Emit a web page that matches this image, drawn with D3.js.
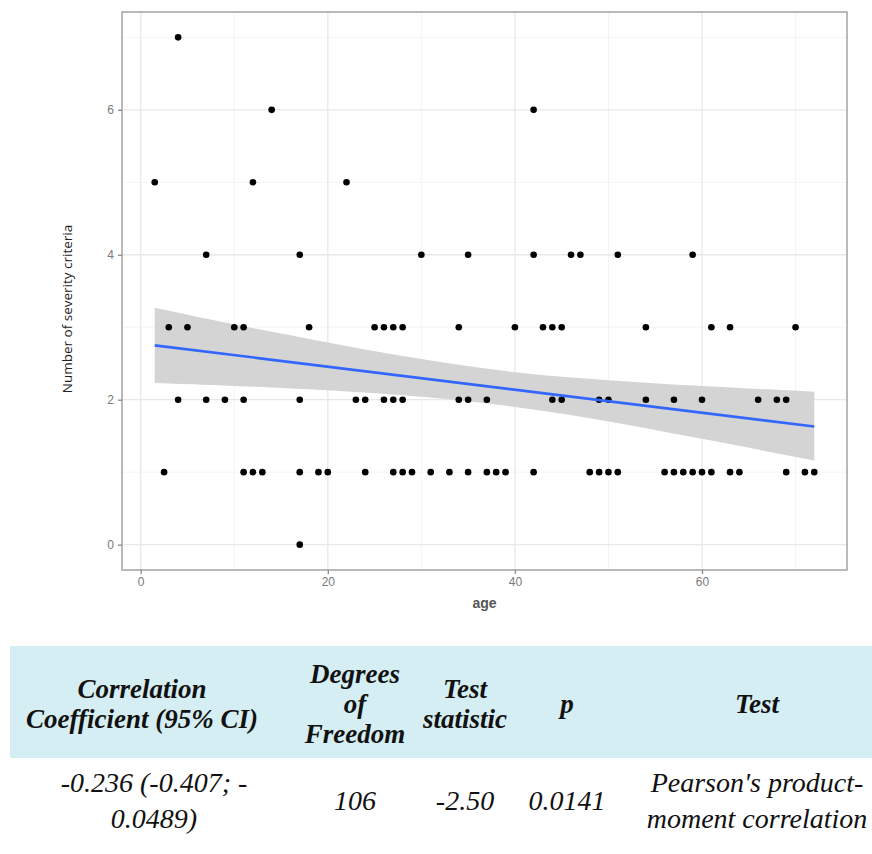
<!DOCTYPE html>
<html>
<head>
<meta charset="utf-8">
<script src="https://cdn.jsdelivr.net/npm/d3@7"></script>
<style>
  body { margin: 0; background: #fff; }
  svg { display: block; }
</style>
</head>
<body>
<svg id="chart" width="872" height="854"></svg>
<script>
// points, one list of ages per number of criteria
var agesWith0 = [17];
var agesWith1 = [2.5, 11, 12, 13, 17, 19, 20, 24, 27, 28, 29, 31, 33, 35, 37, 38, 39, 42, 48, 49, 50, 51, 56, 57, 58, 59, 60, 61, 63, 64, 69, 71, 72];
var agesWith2 = [4, 7, 9, 11, 17, 23, 24, 26, 27, 28, 34, 35, 37, 44, 45, 49, 50, 54, 57, 60, 66, 68, 69];
var agesWith3 = [3, 5, 10, 11, 18, 25, 26, 27, 28, 34, 40, 43, 44, 45, 54, 61, 63, 70];
var agesWith4 = [7, 17, 30, 35, 42, 46, 47, 51, 59];
var agesWith5 = [1.5, 12, 22];
var agesWith6 = [14, 42];
var agesWith7 = [4];

// fitted line and its grey band
var fitAges = [1.5, 72];
var fitValues = [2.75, 1.63];
var bandAges = [1.5, 10, 20, 30, 40, 50, 60, 72];
var bandLow = [2.23, 2.19, 2.13, 2.04, 1.90, 1.70, 1.46, 1.16];
var bandHigh = [3.27, 3.04, 2.79, 2.56, 2.38, 2.27, 2.19, 2.11];

var xTicks = [0, 20, 40, 60];
var yTicks = [0, 2, 4, 6];

// table texts
var headCols = [
    ['Correlation', 'Coefficient (95% CI)'],
    ['Degrees', 'of', 'Freedom'],
    ['Test', 'statistic'],
    ['p'],
    ['Test']
];
var rowCols = [
    ['-0.236 (-0.407; -', '0.0489)'],
    ['106'],
    ['-2.50'],
    ['0.0141'],
    ["Pearson's product-", 'moment correlation']
];

var levels = [agesWith0, agesWith1, agesWith2, agesWith3, agesWith4, agesWith5, agesWith6, agesWith7];
var points = [];
levels.forEach(function(list, n) {
    list.forEach(function(a) { points.push({age: a, n: n}); });
});

var svg = d3.select('#chart');
var panel = {l: 122, r: 847, t: 12, b: 570};

var x = d3.scaleLinear().domain([-2, 75.5]).range([panel.l, panel.r]);
var y = d3.scaleLinear().domain([-0.35, 7.35]).range([panel.b, panel.t]);

// grid
var grid = svg.append('g');
[10, 30, 50, 70].forEach(function(v) {
    grid.append('line').attr('x1', x(v)).attr('x2', x(v)).attr('y1', panel.t).attr('y2', panel.b)
        .attr('stroke', '#f4f4f4').attr('stroke-width', 1);
});
[1, 3, 5, 7].forEach(function(v) {
    grid.append('line').attr('x1', panel.l).attr('x2', panel.r).attr('y1', y(v)).attr('y2', y(v))
        .attr('stroke', '#f4f4f4').attr('stroke-width', 1);
});
xTicks.forEach(function(v) {
    grid.append('line').attr('x1', x(v)).attr('x2', x(v)).attr('y1', panel.t).attr('y2', panel.b)
        .attr('stroke', '#e8e8e8').attr('stroke-width', 1.3);
});
yTicks.forEach(function(v) {
    grid.append('line').attr('x1', panel.l).attr('x2', panel.r).attr('y1', y(v)).attr('y2', y(v))
        .attr('stroke', '#e8e8e8').attr('stroke-width', 1.3);
});

// band
var band = bandAges.map(function(a, i) { return {age: a, lo: bandLow[i], hi: bandHigh[i]}; });
svg.append('path')
    .datum(band)
    .attr('fill', '#d4d4d4')
    .attr('d', d3.area().curve(d3.curveNatural)
        .x(function(d) { return x(d.age); })
        .y0(function(d) { return y(d.lo); })
        .y1(function(d) { return y(d.hi); }));

// points
svg.append('g').selectAll('circle')
    .data(points)
    .enter().append('circle')
    .attr('cx', function(d) { return x(d.age); })
    .attr('cy', function(d) { return y(d.n); })
    .attr('r', 3.3)
    .attr('fill', '#000');

// fit line
svg.append('path')
    .datum(fitAges.map(function(a, i) { return [a, fitValues[i]]; }))
    .attr('fill', 'none')
    .attr('stroke', '#3366ff')
    .attr('stroke-width', 2.6)
    .attr('d', d3.line().x(function(d) { return x(d[0]); }).y(function(d) { return y(d[1]); }));

// border
svg.append('rect')
    .attr('x', panel.l).attr('y', panel.t)
    .attr('width', panel.r - panel.l).attr('height', panel.b - panel.t)
    .attr('fill', 'none').attr('stroke', '#a8a8a8').attr('stroke-width', 1.6);

// axes
var xAxis = svg.append('g')
    .attr('transform', 'translate(0,' + panel.b + ')')
    .call(d3.axisBottom(x).tickValues(xTicks).tickSize(4).tickPadding(3));
var yAxis = svg.append('g')
    .attr('transform', 'translate(' + panel.l + ',0)')
    .call(d3.axisLeft(y).tickValues(yTicks).tickSize(4).tickPadding(4));
[xAxis, yAxis].forEach(function(g) {
    g.select('.domain').remove();
    g.selectAll('.tick line').attr('stroke', '#888').attr('stroke-width', 1.3);
    g.selectAll('.tick text').attr('fill', '#7a7a7a')
        .style('font-family', 'Liberation Sans, Arial, sans-serif').style('font-size', '12px');
});

svg.append('text')
    .attr('x', (panel.l + panel.r) / 2).attr('y', 608)
    .attr('text-anchor', 'middle')
    .style('font-family', 'Liberation Sans, Arial, sans-serif')
    .style('font-size', '14px').style('font-weight', 'bold')
    .attr('fill', '#555')
    .text('age');

svg.append('text')
    .attr('transform', 'translate(72,309) rotate(-90)')
    .attr('text-anchor', 'middle')
    .style('font-family', 'Open Sans, sans-serif')
    .style('font-size', '13.5px')
    .attr('fill', '#222')
    .text('Number of severity criteria');

// table
var colX = [142, 355, 465, 567, 757];
var table = svg.append('g').style('font-family', 'Liberation Serif, Times New Roman, serif')
    .style('font-style', 'italic');

table.append('rect')
    .attr('x', 10).attr('y', 646).attr('width', 862).attr('height', 112)
    .attr('fill', '#d5eef3');

var lineGap = 30;
headCols.forEach(function(lines, i) {
    var y0 = 713 - (lines.length - 1) * lineGap / 2;
    lines.forEach(function(s, k) {
        table.append('text')
            .attr('x', colX[i]).attr('y', y0 + k * lineGap)
            .attr('text-anchor', 'middle')
            .style('font-weight', 'bold').style('font-size', '27px')
            .attr('fill', '#111')
            .text(s);
    });
});

var rowGap = 36;
rowCols.forEach(function(lines, i) {
    var y0 = 810 - (lines.length - 1) * rowGap / 2;
    lines.forEach(function(s, k) {
        table.append('text')
            .attr('x', i === 0 ? colX[i] + 12 : colX[i]).attr('y', y0 + k * rowGap)
            .attr('text-anchor', 'middle')
            .style('font-size', '28px')
            .attr('fill', '#111')
            .text(s);
    });
});
</script>
</body>
</html>
